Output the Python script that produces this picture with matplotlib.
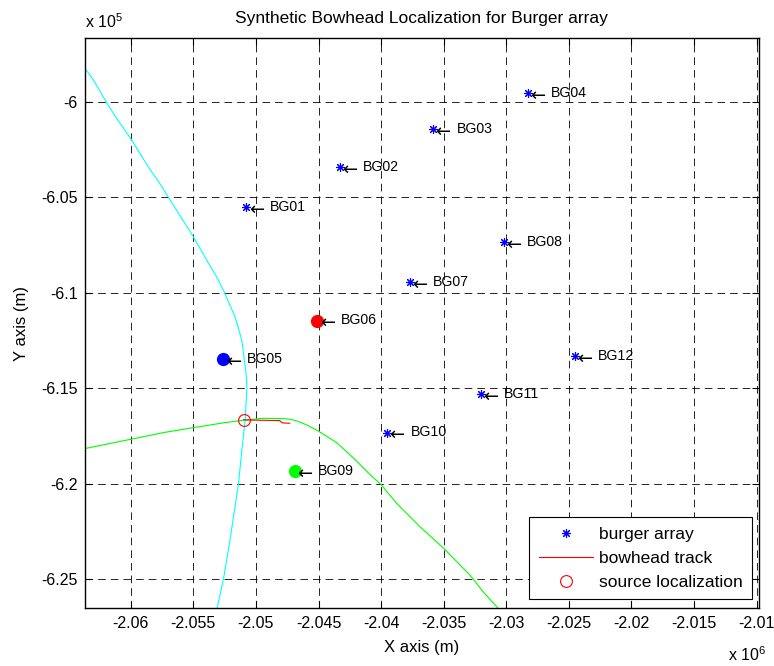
import matplotlib
matplotlib.use("Agg")
import matplotlib.pyplot as plt
from matplotlib.lines import Line2D
from matplotlib.ticker import FixedLocator, FuncFormatter

plt.rcParams["font.family"] = ["Liberation Sans", "DejaVu Sans"]
plt.rcParams["mathtext.fontset"] = "custom"
plt.rcParams["mathtext.rm"] = "Liberation Sans"
plt.rcParams["lines.scale_dashes"] = False

# Burger array hydrophone positions (metres)
station_names = ["BG01", "BG02", "BG03", "BG04", "BG05", "BG06",
                 "BG07", "BG08", "BG09", "BG10", "BG11", "BG12"]
station_x = [-2050770, -2043280, -2035850, -2028270, -2052600, -2045080,
             -2037690, -2030180, -2046900, -2039520, -2032020, -2024510]
station_y = [-605520, -603420, -601430, -599540, -613500, -611460,
             -609450, -607350, -619340, -617330, -615320, -613330]

# stations highlighted with filled circles (name -> colour)
highlight = {"BG05": "#0000ff", "BG06": "#ff0000", "BG09": "#00ff00"}

# hyperbola from the BG05 pair (cyan)
cyan_x = [-2063700, -2062980, -2061970, -2061120, -2060000, -2058590,
          -2057660, -2056910, -2055670, -2055000, -2054470, -2053930,
          -2053130, -2052590, -2051660, -2051390, -2051120, -2050780,
          -2050720, -2050860, -2051120, -2051390, -2052060, -2052590,
          -2053130]
cyan_y = [-598210, -598860, -600000, -600880, -601930, -603420,
          -604300, -605090, -606370, -607070, -607680, -608300,
          -609180, -609880, -611280, -611890, -612510, -614260,
          -615000, -616680, -618220, -620000, -622910, -625000,
          -626610]

# hyperbola from the BG09 pair (green)
green_x = [-2063700, -2060000, -2057400, -2055000, -2052600, -2051010,
           -2049390, -2047790, -2047260, -2046730, -2045930, -2045000,
           -2043540, -2042080, -2040880, -2040000, -2038780, -2036910,
           -2035000, -2032900, -2031840, -2030640]
green_y = [-618170, -617680, -617330, -617070, -616820, -616680,
           -616580, -616600, -616630, -616720, -616930, -617250,
           -617860, -618740, -619530, -620050, -621020, -622250,
           -623390, -624790, -625670, -626540]

# bowhead track and localized source
track_x = [-2050980, -2050600, -2048100, -2047900, -2047300]
track_y = [-616660, -616670, -616700, -616820, -616840]
source_x = [-2050980]
source_y = [-616660]

x_ticks = [-2060000, -2055000, -2050000, -2045000, -2040000, -2035000,
           -2030000, -2025000, -2020000, -2015000, -2010000]
y_ticks = [-625000, -620000, -615000, -610000, -605000, -600000]
x_limits = (-2063690, -2009790)
y_limits = (-626500, -596680)

fig = plt.figure(figsize=(7.74, 6.66), dpi=100)
ax = fig.add_axes([0.1092, 0.0875, 0.8718, 0.855])

ax.plot(cyan_x, cyan_y, color="#00ffff", lw=0.8, zorder=2)
ax.plot(green_x, green_y, color="#00ff00", lw=0.8, zorder=2)
ax.plot(station_x, station_y, linestyle="none", marker=(8, 2, 0),
        markersize=6.5, color="#0000ff", markeredgewidth=0.8, zorder=3)
for name, x, y in zip(station_names, station_x, station_y):
    if name in highlight:
        ax.plot([x], [y], linestyle="none", marker="o", markersize=8.5,
                color=highlight[name], zorder=4)
    # leftward arrow pointing at the station, then its name
    ax.annotate("\u2190", xy=(x, y), xytext=(1.8, -1.9),
                textcoords="offset points", fontsize=13,
                family="DejaVu Sans", ha="left", va="center", zorder=5)
    ax.annotate(name, xy=(x, y), xytext=(16.8, 0.2),
                textcoords="offset points", fontsize=10.2,
                ha="left", va="center", zorder=5)
ax.plot(track_x, track_y, color="#ff0000", lw=0.8, zorder=4)
ax.plot(source_x, source_y, linestyle="none", marker="o", markersize=8.5,
        markerfacecolor="none", markeredgecolor="#ff0000",
        markeredgewidth=0.8, zorder=5)

ax.set_xlim(*x_limits)
ax.set_ylim(*y_limits)
ax.xaxis.set_major_locator(FixedLocator(x_ticks))
ax.yaxis.set_major_locator(FixedLocator(y_ticks))
ax.xaxis.set_major_formatter(FuncFormatter(lambda v, p: "%g" % round(v / 1e6, 4)))
ax.yaxis.set_major_formatter(FuncFormatter(lambda v, p: "%g" % round(v / 1e5, 3)))
ax.tick_params(direction="in", length=5, width=0.8, top=True, right=True,
               labelsize=11.5, colors="black")
ax.tick_params(axis="x", pad=6)
ax.tick_params(axis="y", pad=4.7)
ax.grid(True, color="black", lw=0.6, linestyle=(0, (5.5, 3.6)))
ax.set_axisbelow(True)
for sp in ax.spines.values():
    sp.set_linewidth(1.0)
    sp.set_color("black")

ax.set_title("Synthetic Bowhead Localization for Burger array",
             fontsize=12.5, pad=10.8)
ax.set_xlabel("X axis (m)", fontsize=12)
ax.set_ylabel("Y axis (m)", fontsize=12)
ax.xaxis.set_label_coords(0.5, -0.056)
ax.yaxis.set_label_coords(-0.083, 0.5)

fig.text(85 / 774, 1 - 28 / 666, r"x 10$^{5}$", fontsize=11.5, va="baseline")
fig.text(728 / 774, 1 - 661 / 666, r"x 10$^{6}$", fontsize=11.5, va="baseline")

handles = [
    Line2D([], [], linestyle="none", marker=(8, 2, 0), markersize=6.5,
           color="#0000ff", markeredgewidth=0.8),
    Line2D([], [], color="#ff0000", lw=0.8),
    Line2D([], [], linestyle="none", marker="o", markersize=8.5,
           markerfacecolor="none", markeredgecolor="#ff0000",
           markeredgewidth=0.8),
]
leg = ax.legend(handles, ["burger array", "bowhead track", "source localization"],
                loc="lower right", bbox_to_anchor=(0.9896, 0.01475),
                fontsize=12.5, frameon=True, fancybox=False, framealpha=1,
                edgecolor="black", borderpad=0.55, handlelength=3.1,
                handletextpad=0.36, labelspacing=0.5, borderaxespad=0)
leg.get_frame().set_linewidth(0.8)

fig.savefig("out.png", dpi=100)
